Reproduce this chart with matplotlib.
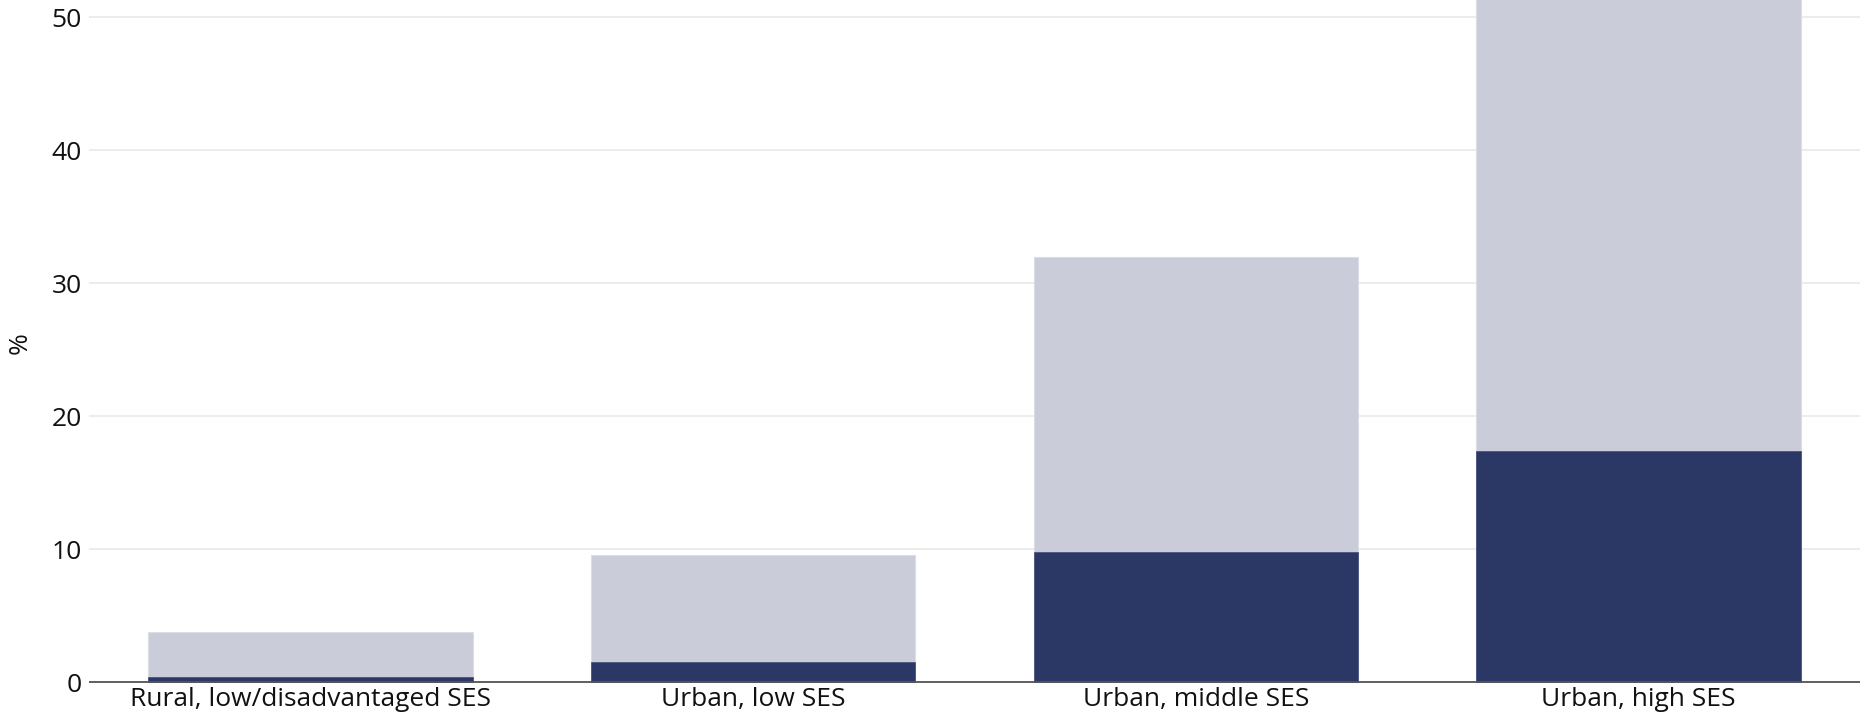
import matplotlib
matplotlib.use("Agg")
import matplotlib.pyplot as plt

categories = ["Rural, low/disadvantaged SES", "Urban, low SES", "Urban, middle SES", "Urban, high SES"]
total_values = [3.8, 9.6, 32.0, 60.0]
dark_values = [0.4, 1.5, 9.8, 17.4]
yticks = [0, 10, 20, 30, 40, 50]

plt.rcParams['font.family'] = ['Open Sans', 'DejaVu Sans']

W, H = 1860, 719
fig = plt.figure(figsize=(W / 100, H / 100), dpi=100)
ax = fig.add_axes([89 / W, 33.4 / H, 1 - 89 / W, 1 - 33.4 / H])

x = list(range(len(categories)))
ax.bar(x, total_values, width=0.733, color="#CACDD9", edgecolor="#DCDEE6", linewidth=0.8, zorder=2)
ax.bar(x, dark_values, width=0.733, color="#2B3764", edgecolor="#4A5580", linewidth=0.6, zorder=3)

ax.set_xlim(-0.5, 3.5)
ax.set_ylim(-0.25, 51.3)
ax.set_yticks(yticks)
ax.set_yticklabels([str(v) for v in yticks])
ax.set_xticks(x)
ax.set_xticklabels(categories)

ax.grid(axis="y", color="#EBEBEB", linewidth=1.3, zorder=0)
ax.set_axisbelow(True)
ax.axhline(0, color="#555555", linewidth=1.3, zorder=4)

for s in ax.spines.values():
    s.set_visible(False)
ax.tick_params(axis="both", length=0, labelsize=19, colors="#111111")
ax.tick_params(axis="y", pad=5)
ax.tick_params(axis="x", pad=1)
ax.set_ylabel("%", fontsize=19, color="#111111", labelpad=14)

fig.savefig("out.png", dpi=100)
